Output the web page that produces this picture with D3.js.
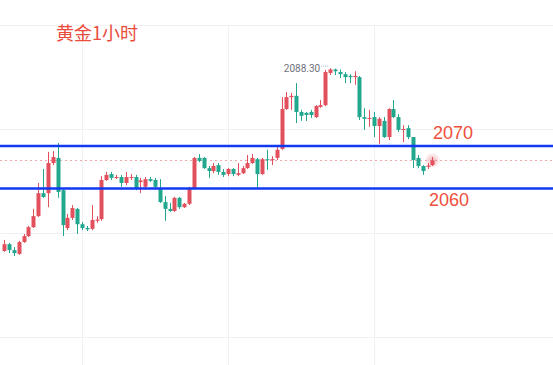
<!DOCTYPE html>
<html>
<head>
<meta charset="utf-8">
<script src="https://cdn.jsdelivr.net/npm/d3@7"></script>
<style>
	html, body { margin: 0; padding: 0; background: #fff; overflow: hidden; }
</style>
</head>
<body>
<script>
// gold, 1 hour candles
const opens = [2045.3, 2046.9, 2045.5, 2044.6, 2047.4, 2048.8, 2050.9, 2053.5, 2058.9, 2058.9,
	2066.0, 2067.2, 2059.6, 2050.7, 2053.1, 2055.2, 2051.6, 2050.7, 2050.5, 2052.4,
	2052.8, 2062.0, 2063.4, 2062.5, 2062.7, 2061.3, 2062.5, 2062.7, 2061.5, 2060.4,
	2062.2, 2062.0, 2060.1, 2056.8, 2055.2, 2054.7, 2057.8, 2055.6, 2056.4, 2060.1,
	2067.2, 2067.2, 2064.8, 2064.1, 2065.5, 2063.9, 2063.4, 2064.6, 2063.2, 2063.6,
	2064.8, 2066.0, 2066.9, 2063.4, 2066.9, 2066.7, 2067.2, 2069.3, 2078.7, 2081.5,
	2081.8, 2078.0, 2077.8, 2078.0, 2076.8, 2079.2, 2079.6, 2087.2, 2088.0, 2087.4,
	2086.9, 2086.5, 2086.2, 2086.2, 2076.8, 2076.4, 2076.8, 2074.7, 2075.9, 2072.1,
	2078.7, 2076.8, 2073.8, 2074.2, 2072.1, 2067.2, 2065.3, 2065.1, 2065.5];
const highs = [2047.9, 2047.2, 2046.2, 2047.7, 2049.3, 2051.2, 2055.2, 2061.3, 2064.6, 2068.6,
	2068.8, 2070.7, 2060.1, 2054.0, 2056.1, 2055.4, 2052.1, 2051.2, 2056.1, 2053.5,
	2062.9, 2063.9, 2063.9, 2063.2, 2063.2, 2063.9, 2063.4, 2063.2, 2062.5, 2062.7,
	2062.7, 2062.5, 2062.2, 2058.2, 2056.6, 2058.0, 2058.0, 2056.6, 2060.4, 2067.4,
	2068.1, 2067.4, 2065.3, 2066.0, 2066.0, 2064.6, 2064.8, 2064.8, 2066.0, 2065.3,
	2067.9, 2068.1, 2067.2, 2067.2, 2069.1, 2067.6, 2070.2, 2081.5, 2082.7, 2082.5,
	2084.8, 2078.5, 2078.0, 2078.5, 2079.6, 2080.8, 2087.9, 2088.3, 2088.2, 2088.0,
	2087.4, 2086.9, 2087.6, 2086.5, 2078.9, 2078.5, 2078.0, 2076.8, 2076.8, 2078.9,
	2080.8, 2077.5, 2074.9, 2074.9, 2072.1, 2067.9, 2065.5, 2066.0, 2067.4];
const lows = [2045.1, 2044.8, 2044.1, 2044.4, 2047.2, 2048.6, 2050.7, 2053.3, 2057.8, 2055.6,
	2065.5, 2057.8, 2048.8, 2050.2, 2052.6, 2049.3, 2050.2, 2050.0, 2050.2, 2051.9,
	2052.4, 2061.8, 2062.0, 2062.2, 2060.4, 2060.8, 2062.0, 2059.6, 2058.9, 2060.1,
	2061.5, 2060.1, 2056.6, 2052.4, 2054.5, 2054.5, 2055.2, 2055.4, 2056.1, 2059.9,
	2066.2, 2064.6, 2062.5, 2063.6, 2063.2, 2062.7, 2062.9, 2062.9, 2062.9, 2063.4,
	2064.6, 2065.8, 2060.1, 2063.2, 2064.4, 2065.5, 2066.7, 2069.1, 2078.5, 2078.5,
	2075.4, 2075.9, 2075.9, 2076.6, 2076.6, 2079.0, 2079.4, 2086.7, 2086.7, 2086.0,
	2084.8, 2084.8, 2084.4, 2076.1, 2073.8, 2074.5, 2072.1, 2070.5, 2071.9, 2071.4,
	2076.6, 2073.3, 2070.9, 2071.6, 2064.8, 2064.8, 2063.2, 2064.6, 2065.3];
const closes = [2046.9, 2045.5, 2044.8, 2047.4, 2048.8, 2050.9, 2053.5, 2058.9, 2058.0, 2066.0,
	2067.4, 2059.2, 2051.4, 2053.1, 2055.4, 2051.6, 2050.7, 2050.4, 2052.6, 2052.7,
	2062.0, 2063.2, 2062.5, 2062.7, 2061.3, 2062.7, 2062.7, 2059.9, 2061.9, 2062.2,
	2061.8, 2060.4, 2056.8, 2055.2, 2054.7, 2057.8, 2055.6, 2056.4, 2060.1, 2067.2,
	2066.5, 2064.8, 2064.1, 2065.3, 2063.9, 2063.2, 2064.6, 2063.4, 2063.6, 2064.8,
	2066.0, 2067.2, 2063.4, 2066.9, 2066.7, 2066.9, 2069.1, 2078.7, 2081.5, 2081.8,
	2078.0, 2077.1, 2077.3, 2077.3, 2079.4, 2079.6, 2087.4, 2088.0, 2087.6, 2086.9,
	2086.2, 2086.2, 2086.5, 2076.8, 2076.4, 2076.6, 2074.7, 2076.4, 2072.1, 2078.7,
	2076.8, 2073.8, 2074.0, 2072.1, 2066.7, 2065.3, 2064.1, 2065.4, 2066.6];

const gridPrices = [2098.5, 2074, 2049.5, 2025];
const gridBars = [16, 46, 76];
const levels = [2070, 2060];
const levelLabels = ['2070', '2060'];
const peakText = '2088.30';
const title = '黄金1小时';

const width = 553;
const height = 365;
const upColor = '#e2505d';
const downColor = '#22a78f';

const candles = opens.map((o, i) => ({ i: i, o: o, h: highs[i], l: lows[i], c: closes[i] }));

const svg = d3.select('body')
	.append('svg')
	.attr('width', width)
	.attr('height', height)
	.style('display', 'block');

const xScale = d3.scaleLinear().domain([16, 76]).range([82, 374]);
const yScale = d3.scaleLinear().domain([2060, 2070]).range([188.5, 146]);

// grid
svg.append('g')
	.selectAll('line')
	.data(gridPrices)
	.enter()
	.append('line')
	.attr('x1', 0)
	.attr('x2', width)
	.attr('y1', (d) => Math.round(yScale(d)) + 0.5)
	.attr('y2', (d) => Math.round(yScale(d)) + 0.5)
	.style('stroke', '#f0f1f4')
	.style('stroke-width', 1);

svg.append('g')
	.selectAll('line')
	.data(gridBars)
	.enter()
	.append('line')
	.attr('x1', (d) => Math.round(xScale(d)) + 0.5)
	.attr('x2', (d) => Math.round(xScale(d)) + 0.5)
	.attr('y1', Math.round(yScale(gridPrices[0])))
	.attr('y2', height)
	.style('stroke', '#f0f1f4')
	.style('stroke-width', 1);

// last price dotted line
const lastPrice = closes[closes.length - 1];
svg.append('line')
	.attr('x1', 0)
	.attr('x2', width)
	.attr('y1', yScale(lastPrice))
	.attr('y2', yScale(lastPrice))
	.style('stroke', '#f2a3a8')
	.style('stroke-width', 1)
	.style('stroke-dasharray', '2,3');

// candles
const candleG = svg.append('g');
candleG.selectAll('.wick')
	.data(candles)
	.enter()
	.append('line')
	.attr('class', 'wick')
	.attr('x1', (d) => Math.round(xScale(d.i)) + 0.5)
	.attr('x2', (d) => Math.round(xScale(d.i)) + 0.5)
	.attr('y1', (d) => yScale(d.h))
	.attr('y2', (d) => yScale(d.l))
	.style('stroke', (d) => (d.c >= d.o ? upColor : downColor))
	.style('stroke-width', 1);

candleG.selectAll('.body')
	.data(candles)
	.enter()
	.append('rect')
	.attr('class', 'body')
	.attr('x', (d) => Math.round(xScale(d.i)) - 1.5)
	.attr('width', 4)
	.attr('y', (d) => yScale(Math.max(d.o, d.c)))
	.attr('height', (d) => Math.max(1, Math.abs(yScale(d.o) - yScale(d.c))))
	.style('fill', (d) => (d.c >= d.o ? upColor : downColor));

// glow on the last candle
const defs = svg.append('defs');
const grad = defs.append('radialGradient').attr('id', 'glow');
grad.append('stop').attr('offset', '0%').attr('stop-color', upColor).attr('stop-opacity', 0.45);
grad.append('stop').attr('offset', '100%').attr('stop-color', upColor).attr('stop-opacity', 0);
const last = candles[candles.length - 1];
svg.append('circle')
	.attr('cx', Math.round(xScale(last.i)) + 0.5)
	.attr('cy', yScale(lastPrice))
	.attr('r', 8)
	.style('fill', 'url(#glow)');

// peak label
const peak = candles.reduce((a, b) => (b.h > a.h ? b : a));
svg.append('text')
	.attr('x', xScale(peak.i) - 10)
	.attr('y', yScale(peak.h) + 4)
	.attr('text-anchor', 'end')
	.style('font-family', 'Roboto, "Liberation Sans", sans-serif')
	.style('font-size', '10px')
	.style('fill', '#6f727d')
	.text(peakText);
svg.append('line')
	.attr('x1', xScale(peak.i) - 9)
	.attr('x2', xScale(peak.i) - 2)
	.attr('y1', yScale(peak.h) - 2)
	.attr('y2', yScale(peak.h) - 2)
	.style('stroke', '#b2b5be')
	.style('stroke-width', 1)
	.style('stroke-dasharray', '1,1');

// blue levels
svg.append('g')
	.selectAll('line')
	.data(levels)
	.enter()
	.append('line')
	.attr('x1', 0)
	.attr('x2', width)
	.attr('y1', (d) => yScale(d))
	.attr('y2', (d) => yScale(d))
	.style('stroke', '#1238f2')
	.style('stroke-width', 2.5);

svg.append('g')
	.selectAll('text')
	.data(levels)
	.enter()
	.append('text')
	.attr('x', (d, i) => (i === 0 ? 453 : 449))
	.attr('y', (d, i) => (i === 0 ? yScale(d) - 7 : yScale(d) + 17))
	.attr('text-anchor', 'middle')
	.style('font-family', '"Liberation Sans", Arial, sans-serif')
	.style('font-size', '18px')
	.style('fill', '#ef4f3c')
	.text((d, i) => levelLabels[i]);

// title
svg.append('text')
	.attr('x', 56)
	.attr('y', 40)
	.style('font-family', '"Noto Sans CJK SC", sans-serif')
	.style('font-size', '18px')
	.style('fill', '#eb4b3b')
	.text(title);
</script>
</body>
</html>
